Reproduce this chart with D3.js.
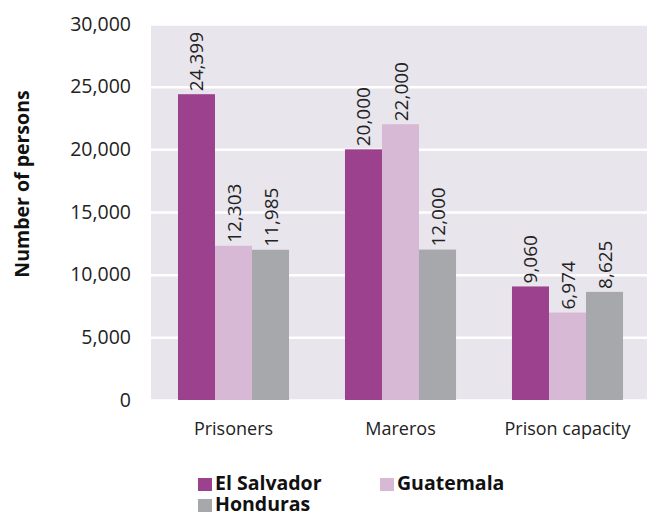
<!DOCTYPE html>
<html><head><meta charset="utf-8">
<script src="https://cdn.jsdelivr.net/npm/d3@7"></script>
<style>body{margin:0;background:#fff}svg{display:block;font-family:"Open Sans","Noto Sans",sans-serif}</style>
</head><body>
<svg id="c" width="647" height="513"></svg>
<script>
const categories = ["Prisoners", "Mareros", "Prison capacity"];
const seriesNames = ["El Salvador", "Guatemala", "Honduras"];
const elSalvador = [24399, 20000, 9060];
const guatemala = [12303, 22000, 6974];
const honduras = [11985, 12000, 8625];
const yTicks = [0, 5000, 10000, 15000, 20000, 25000, 30000];
const colors = ["#9c418d", "#d7b9d5", "#a7a8ab"];
const seriesValues = [elSalvador, guatemala, honduras];

const svg = d3.select("#c");
const plot = {left: 151, right: 647, top: 24, bottom: 400};
const x0 = d3.scaleBand().domain(categories).range([150, 651]).paddingInner(0.335).paddingOuter(0.1675);
const x1 = d3.scaleBand().domain(seriesNames).range([0, x0.bandwidth()]);
const y = d3.scaleLinear().domain([0, 30000]).range([plot.bottom, plot.top]);
const font = '"Open Sans","Noto Sans",sans-serif';

svg.append("rect").attr("x", plot.left).attr("y", plot.top)
  .attr("width", plot.right - plot.left).attr("height", plot.bottom - plot.top).attr("fill", "#e8e5ed");

const yAxis = svg.append("g").attr("transform", `translate(${plot.left},0)`)
  .call(d3.axisLeft(y).tickValues(yTicks).tickFormat(d3.format(",")).tickSize(-(plot.right - plot.left)).tickPadding(20));
yAxis.select(".domain").remove();
yAxis.selectAll(".tick line").attr("stroke", "#fff").attr("stroke-width", 2.5);
yAxis.selectAll(".tick text").attr("font-size", 19.5).attr("fill", "#222").attr("font-family", font);

const groups = svg.append("g").selectAll("g").data(categories).join("g")
  .attr("transform", d => `translate(${x0(d)},0)`);
groups.selectAll("rect").data((d, i) => seriesNames.map((s, j) => ({s, v: seriesValues[j][i], j})))
  .join("rect")
  .attr("x", d => x1(d.s)).attr("width", x1.bandwidth())
  .attr("y", d => y(d.v)).attr("height", d => y(0) - y(d.v))
  .attr("fill", d => colors[d.j]);
groups.selectAll("text").data((d, i) => seriesNames.map((s, j) => ({s, v: seriesValues[j][i], j})))
  .join("text")
  .attr("transform", d => `translate(${x1(d.s) + x1.bandwidth() / 2 + 7},${y(d.v) - 3}) rotate(-90)`)
  .attr("font-size", 19).attr("fill", "#222")
  .text(d => d3.format(",")(d.v));

const xAxis = svg.append("g").attr("transform", `translate(0,${plot.bottom})`)
  .call(d3.axisBottom(x0).tickSize(0).tickPadding(22));
xAxis.select(".domain").remove();
xAxis.selectAll(".tick text").attr("font-size", 18).attr("fill", "#222").attr("font-family", font);

svg.append("text").attr("transform", "translate(29,184) rotate(-90)")
  .attr("text-anchor", "middle").attr("font-size", 19.5).attr("font-weight", "bold").attr("fill", "#111")
  .text("Number of persons");

const legendPos = [[198, 478], [380, 478], [198, 499]];
const leg = svg.append("g").selectAll("g").data(seriesNames).join("g")
  .attr("transform", (d, i) => `translate(${legendPos[i][0]},${legendPos[i][1]})`);
leg.append("rect").attr("width", 14).attr("height", 13).attr("fill", (d, i) => colors[i]);
leg.append("text").attr("x", 17).attr("y", 12).attr("font-size", 19.5).attr("font-weight", "bold").attr("fill", "#111").text(d => d);
</script>
</body></html>
